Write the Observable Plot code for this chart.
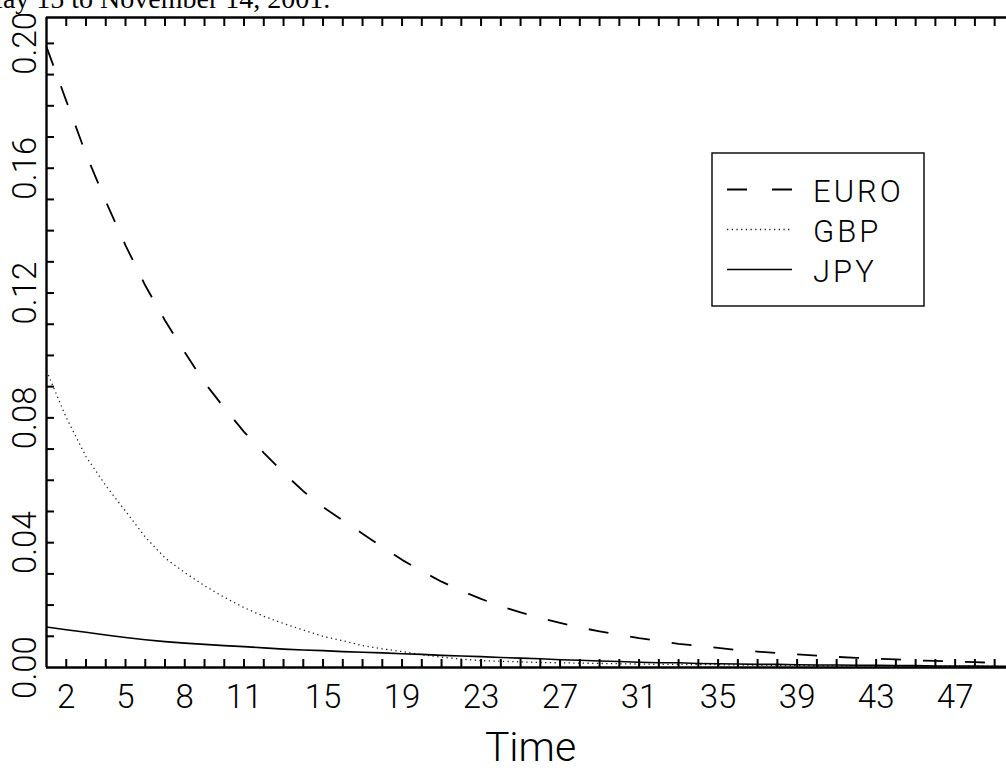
<!DOCTYPE html>
<html>
<head>
<meta charset="utf-8">
<script src="https://cdn.jsdelivr.net/npm/d3@7"></script>
<script src="https://cdn.jsdelivr.net/npm/@observablehq/plot@0.6"></script>
<style>
  html, body { margin: 0; padding: 0; background: #fff; overflow: hidden; }
  #wrap { position: relative; width: 1006px; height: 771px; overflow: hidden; }
  #title { position: absolute; left: -22px; top: -17px; font-family: "Liberation Serif", "Times New Roman", serif;
           font-size: 28px; line-height: normal; white-space: nowrap; color: #000; }
  #chart svg { display: block; }
</style>
</head>
<body>
<div id="wrap">
  <div id="chart"></div>
  <div id="title">May 15 to November 14, 2001.</div>
</div>
<script>
// ---- data ----
const times = [1,2,3,4,5,6,7,8,9,10,11,12,13,14,15,16,17,18,19,20,21,22,23,24,25,
               26,27,28,29,30,31,32,33,34,35,36,37,38,39,40,41,42,43,44,45,46,47,48,49,50];
const euro = [0.1989,0.1816,0.1645,0.1494,0.1353,0.1224,0.1112,0.1010,0.0913,0.0832,
              0.0755,0.0688,0.0624,0.0565,0.0514,0.0471,0.0429,0.0386,0.0345,0.0309,
              0.0275,0.0246,0.0220,0.0196,0.0177,0.0158,0.0143,0.0128,0.0116,0.0105,
              0.0094,0.0085,0.0076,0.0069,0.0063,0.0056,0.0051,0.0046,0.0042,0.0038,
              0.0034,0.0031,0.0028,0.0026,0.0023,0.0021,0.0019,0.0017,0.0015,0.0013];
const gbp  = [0.0951,0.0801,0.0676,0.0583,0.0501,0.0418,0.0351,0.0304,0.0262,0.0225,
              0.0192,0.0164,0.0141,0.0120,0.0100,0.0086,0.0070,0.0060,0.0051,0.0041,
              0.0033,0.0027,0.0022,0.0020,0.0018,0.0016,0.0015,0.0014,0.0013,0.0012,
              0.0011,0.0010,0.0010,0.0009,0.0009,0.0008,0.0008,0.0007,0.0007,0.0006,
              0.0006,0.0006,0.0005,0.0005,0.0005,0.0004,0.0004,0.0004,0.0004,0.0003];
const jpy  = [0.0130,0.0121,0.0113,0.0104,0.0096,0.0089,0.0083,0.0078,0.0074,0.0070,
              0.0067,0.0063,0.0059,0.0056,0.0054,0.0051,0.0049,0.0047,0.0044,0.0042,
              0.0039,0.0037,0.0035,0.0032,0.0030,0.0028,0.0025,0.0023,0.0021,0.0019,
              0.0017,0.0015,0.0015,0.0013,0.0012,0.0011,0.0010,0.0010,0.0009,0.0008,
              0.0008,0.0007,0.0007,0.0006,0.0006,0.0005,0.0005,0.0005,0.0004,0.0004];
const seriesNames = ["EURO", "GBP", "JPY"];
const xDomain = [1, 49.6];
const yDomain = [0, 0.2083];
const xTickLabels = [2,5,8,11,15,19,23,27,31,35,39,43,47];
const xMinorTicks = [2,3,4,5,6,7,8,9,10,11,12,13,14,15,16,17,18,19,20,21,22,23,24,25,
                     26,27,28,29,30,31,32,33,34,35,36,37,38,39,40,41,42,43,44,45,46,47,48,49];
const yTickLabels = [0.00,0.04,0.08,0.12,0.16,0.20];
const yMinorTicks = [0.01,0.02,0.03,0.04,0.05,0.06,0.07,0.08,0.09,0.10,
                     0.11,0.12,0.13,0.14,0.15,0.16,0.17,0.18,0.19,0.20];
const xLabel = "Time";

// ---- styling ----
const styles = {
  EURO: {strokeWidth: 1.8, strokeDasharray: "20,22", stroke: "#000"},
  GBP:  {strokeWidth: 1.3, strokeDasharray: "1.3,3.4", stroke: "#222"},
  JPY:  {strokeWidth: 1.6, strokeDasharray: null, stroke: "#000"}
};
const valueLists = [euro, gbp, jpy];
const rows = seriesNames.map((name, k) => times.map((t, i) => ({t, v: valueLists[k][i], name})));

const tickFont = {fontFamily: "Roboto, 'DejaVu Sans', sans-serif", fontWeight: 300};

const chart = Plot.plot({
  width: 1006,
  height: 771,
  marginLeft: 46,
  marginRight: 0,
  marginTop: 17,
  marginBottom: 104,
  style: {background: "#fff", color: "#000", overflow: "hidden"},
  x: {domain: xDomain, label: null},
  y: {domain: yDomain, label: null},
  marks: [
    ...rows.map((r, k) => Plot.line(r, {x: "t", y: "v", ...styles[seriesNames[k]], strokeLinecap: "butt"})),
    // inward ticks
    Plot.axisY(yMinorTicks, {anchor: "left", tickSize: -8, fill: "none", strokeWidth: 2, label: null}),
    Plot.axisX(xMinorTicks, {anchor: "bottom", tickSize: -8, fill: "none", strokeWidth: 2, label: null}),
    Plot.axisX(xMinorTicks, {anchor: "top", tickSize: -8, fill: "none", strokeWidth: 2, label: null}),
    // tick labels
    Plot.axisY(yTickLabels, {anchor: "left", tickSize: 0, tickRotate: -90, tickPadding: 11,
      tickFormat: d3.format(".2f"), fontSize: 33, letterSpacing: 3, ...tickFont, label: null}),
    Plot.axisX(xTickLabels, {anchor: "bottom", tickSize: 0, tickPadding: 17,
      fontSize: 33, letterSpacing: 1, ...tickFont, label: null}),
    // spines
    Plot.ruleY([yDomain[0]], {strokeWidth: 2.4}),
    Plot.ruleY([yDomain[1]], {strokeWidth: 2.4}),
    Plot.ruleX([xDomain[0]], {strokeWidth: 2.4}),
    // axis title
    Plot.text([xLabel], {frameAnchor: "bottom", dx: 4, dy: 93, lineAnchor: "bottom",
      fontSize: 41, ...tickFont, letterSpacing: 2})
  ]
});
document.getElementById("chart").appendChild(chart);

// ---- legend (inside the plot frame, top right) ----
const svg = d3.select(chart);
const leg = svg.append("g").attr("class", "legend").attr("text-anchor", "start");
leg.append("rect").attr("x", 712).attr("y", 153).attr("width", 212).attr("height", 153)
  .attr("fill", "#fff").attr("stroke", "#000").attr("stroke-width", 1.4);
seriesNames.forEach((name, i) => {
  const y = 189.5 + i * 40;
  const s = styles[name];
  leg.append("line").attr("x1", 727).attr("x2", 792).attr("y1", y).attr("y2", y)
    .attr("stroke", s.stroke).attr("stroke-width", s.strokeWidth)
    .attr("stroke-dasharray", name === "EURO" ? "20,25" : s.strokeDasharray);
  leg.append("text").attr("x", 813).attr("y", y + 12.3).text(name)
    .attr("text-anchor", "start")
    .attr("font-family", "Roboto, 'DejaVu Sans', sans-serif").attr("font-weight", 300)
    .attr("font-size", 31).attr("letter-spacing", 3).attr("fill", "#000");
});
</script>
</body>
</html>
